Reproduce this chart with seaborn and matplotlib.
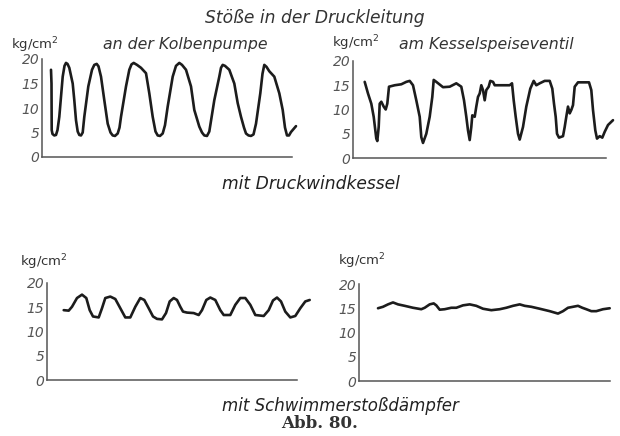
import numpy as np
import pandas as pd
import matplotlib
matplotlib.use("Agg")
import matplotlib.pyplot as plt
import seaborn as sns

# Zeitachse in willkürlichen Einheiten (Achsenlänge ~250), Druck in kg/cm2
kolben = [(9, 17.8), (9.5, 15), (9.7, 5.5), (10.5, 4.7), (12.3, 4.4), (14, 4.5),
          (15.5, 5.5), (17.3, 8.2), (20.7, 16.4), (22.5, 18.6), (24, 19.2), (25.5, 19.0),
          (27.3, 18.2), (30.7, 15), (32.3, 11.6), (34, 7.5), (35.7, 5.2), (37.3, 4.5),
          (39, 4.4), (40.7, 5.0), (42.3, 8.2), (46.3, 14.4), (50, 17.8), (52.3, 18.8),
          (54.7, 19), (56.5, 18.5), (59, 16.4), (62.3, 11.6), (65.7, 6.8), (68.5, 5.0),
          (70.7, 4.4), (73, 4.3), (75.7, 4.8), (77.5, 6.0), (79, 8.2), (84, 14.4),
          (87.3, 17.8), (89.5, 18.9), (91.7, 19.2), (95, 18.8), (99, 18.2), (104, 17.1),
          (107.3, 13), (110.7, 8.2), (113.5, 5.2), (115.7, 4.4), (118, 4.3), (120.7, 4.8),
          (123, 6.5), (125.7, 10.3), (130.7, 16.4), (134, 18.6), (137.3, 19.2),
          (140, 18.8), (144, 17.8), (149, 14.4), (152.3, 9.6), (157.3, 6.2), (160, 5.0),
          (162.3, 4.4), (165, 4.3), (167.3, 5.2), (172.3, 11.6), (177.3, 16.4),
          (179, 18.2), (180.7, 18.8), (183, 18.6), (187.3, 17.8), (192.3, 15), (195.7, 11),
          (199, 8.2), (202, 6.0), (204, 4.8), (206.5, 4.4), (209, 4.3), (211.5, 4.6),
          (214, 6.8), (218.3, 13), (220.5, 17), (222.3, 18.8), (224.5, 18.4), (227.3, 17.5),
          (232.3, 16.4), (237.3, 13), (240.7, 9.6), (243, 6.0), (245, 4.4), (247, 4.4),
          (249, 5.1), (254, 6.3)]

kessel = [(11.7, 15.7), (15, 13.3), (18.3, 11.2), (20.7, 8.5), (23.3, 4), (24.3, 3.5),
          (25.7, 6.4), (26.7, 11.2), (28.3, 11.6), (30.7, 10.6), (32.7, 10), (34.3, 11.2),
          (36, 14.7), (41.7, 15), (48.3, 15.2), (53.3, 15.7), (56.7, 15.9), (60, 15),
          (63.3, 11.9), (66.7, 8.5), (68.3, 4.3), (70, 3.1), (73.3, 5), (76.7, 8.5),
          (79.3, 12.6), (80.7, 16.1), (83.3, 15.7), (90, 14.6), (96.7, 14.7),
          (103.3, 15.4), (108.3, 14.7), (111, 11.9), (113.3, 8.5), (115, 5.7),
          (116.7, 3.7), (118.3, 6.4), (119.3, 8.8), (121.7, 8.5), (123.3, 10.6),
          (125, 12.6), (126.7, 13.3), (128.3, 15), (130, 14), (131.7, 11.9), (133.3, 14),
          (135.7, 14.7), (137.3, 15.9), (140, 15.7), (141.7, 15), (150, 15), (156.7, 15),
          (159, 15.4), (160.7, 11.9), (162.7, 8.5), (165, 5), (166.7, 3.8), (170, 6.4),
          (173.3, 10.6), (177.3, 14.3), (180.7, 15.9), (183.3, 15), (186.7, 15.4),
          (191.7, 15.9), (196.7, 15.9), (199.3, 14.3), (201, 11.2), (202.7, 8.5),
          (204, 5), (206, 4.2), (210, 4.5), (211.7, 6.4), (213.3, 8.5), (215, 10.6),
          (216.7, 9.2), (218.3, 9.9), (220, 10.9), (221.7, 14.7), (225, 15.6),
          (231.7, 15.6), (236, 15.6), (238.3, 14), (240, 9.9), (242.3, 5.7), (244, 4),
          (246.7, 4.5), (249.3, 4.2), (251.7, 5.4), (255, 6.8), (260, 7.8)]

windkessel = [(16.7, 14.4), (21.7, 14.3), (25, 15.1), (30, 16.9), (35, 17.6), (39.3, 16.9),
              (42.7, 14.4), (46, 13.1), (51.7, 12.9), (55, 14.8), (58.3, 16.9),
              (63.3, 17.2), (68.3, 16.7), (73.3, 14.8), (78.3, 12.9), (83.3, 12.9),
              (88.3, 15.1), (93.3, 16.9), (97.3, 16.5), (101.7, 14.8), (106, 13.1),
              (110, 12.6), (115, 12.5), (119, 13.8), (122.7, 16.2), (126.7, 16.9),
              (130, 16.5), (133.3, 15.1), (136, 14.1), (140, 13.9), (146.7, 13.8),
              (151.7, 13.4), (155, 14.4), (159.3, 16.5), (163.3, 17), (168.3, 16.5),
              (173.3, 14.4), (176.7, 13.4), (183.3, 13.4), (188.3, 15.5), (193.3, 16.9),
              (198.3, 16.9), (203.3, 15.5), (208.3, 13.4), (216.7, 13.2), (221.7, 14.4),
              (226, 16.4), (230, 17), (234, 16.2), (238.3, 14.1), (243.3, 12.9),
              (248.3, 13.2), (253.3, 14.8), (258.3, 16.2), (262.7, 16.5)]

schwimmer = [(19, 15), (24, 15.3), (29, 15.8), (34, 16.2), (39, 15.8), (45.7, 15.5),
             (54, 15.1), (62.3, 14.8), (65.7, 15.1), (70.7, 15.8), (74.7, 16), (77.3, 15.6),
             (80.7, 14.7), (85.7, 14.8), (92.3, 15.1), (97.3, 15.1), (104, 15.6),
             (110.7, 15.8), (117.3, 15.5), (124, 14.9), (132.3, 14.6), (140.7, 14.8),
             (147.3, 15.1), (154, 15.5), (160.7, 15.8), (165.7, 15.5), (172.3, 15.3),
             (180.7, 14.9), (190.7, 14.4), (199, 13.9), (204, 14.4), (209, 15.1),
             (214, 15.3), (219, 15.5), (223.3, 15.1), (227.3, 14.8), (232.3, 14.4),
             (237.3, 14.4), (244, 14.8), (250.7, 15)]

yticks = [0, 5, 10, 15, 20]

sns.set_style("white")
plt.rcParams["font.family"] = ["DejaVu Sans"]

fig = plt.figure(figsize=(6.2, 4.36), dpi=100)
W, H = 620, 436


def panel(left, top, bottom, xlen, series, axis_end):
    # Pixelgrenzen -> Figurenanteile
    ax = fig.add_axes([left / W, 1 - bottom / H, xlen / W, (bottom - top) / H])
    t, p = zip(*series)
    df = pd.DataFrame({"t": t, "p": p})
    sns.lineplot(data=df, x="t", y="p", ax=ax, sort=False, color="#1c1c1c",
                 linewidth=1.9, clip_on=False, solid_joinstyle="round",
                 solid_capstyle="round")
    ax.set_xlim(0, xlen)
    ax.set_ylim(0, 20)
    ax.set_yticks(yticks)
    ax.set_yticklabels([str(v) for v in yticks], fontstyle="italic", fontsize=10,
                       color="#555555")
    ax.set_xticks([])
    ax.set_xlabel("")
    ax.set_ylabel("")
    ax.tick_params(axis="y", direction="in", length=4, width=1, color="#555555", pad=2)
    for s in ["top", "right"]:
        ax.spines[s].set_visible(False)
    for s in ["left", "bottom"]:
        ax.spines[s].set_color("#555555")
        ax.spines[s].set_linewidth(1.1)
    ax.spines["bottom"].set_bounds(0, axis_end)
    ax.patch.set_alpha(0)
    return ax


panel(42, 59, 157, 262, kolben, 250)
panel(353, 61, 158, 262, kessel, 253)
panel(47, 283, 380, 265, windkessel, 250)
panel(359, 284, 381, 260, schwimmer, 251)


def label(x, y, s, **kw):
    fig.text(x / W, 1 - y / H, s, ha="center", va="center", **kw)


label(315, 18, "Stöße in der Druckleitung", fontsize=12.3, fontstyle="italic", color="#333333")
label(185, 45, "an der Kolbenpumpe", fontsize=11.3, fontstyle="italic", color="#333333")
label(486, 45, "am Kesselspeiseventil", fontsize=11.3, fontstyle="italic", color="#333333")
label(35, 45, "kg/cm$^2$", fontsize=9.5, color="#333333")
label(356, 43, "kg/cm$^2$", fontsize=9.5, color="#333333")
label(44, 262, "kg/cm$^2$", fontsize=9.5, color="#333333")
label(362, 261, "kg/cm$^2$", fontsize=9.5, color="#333333")
label(311, 184, "mit Druckwindkessel", fontsize=12.3, fontstyle="italic", color="#222222")
label(340, 406, "mit Schwimmerstoßdämpfer", fontsize=12, fontstyle="italic", color="#222222")
label(320, 423, "Abb. 80.", fontsize=12, fontweight="bold", color="#333333",
      family=["DejaVu Serif"])

fig.savefig("out.png", dpi=100, facecolor="white")
